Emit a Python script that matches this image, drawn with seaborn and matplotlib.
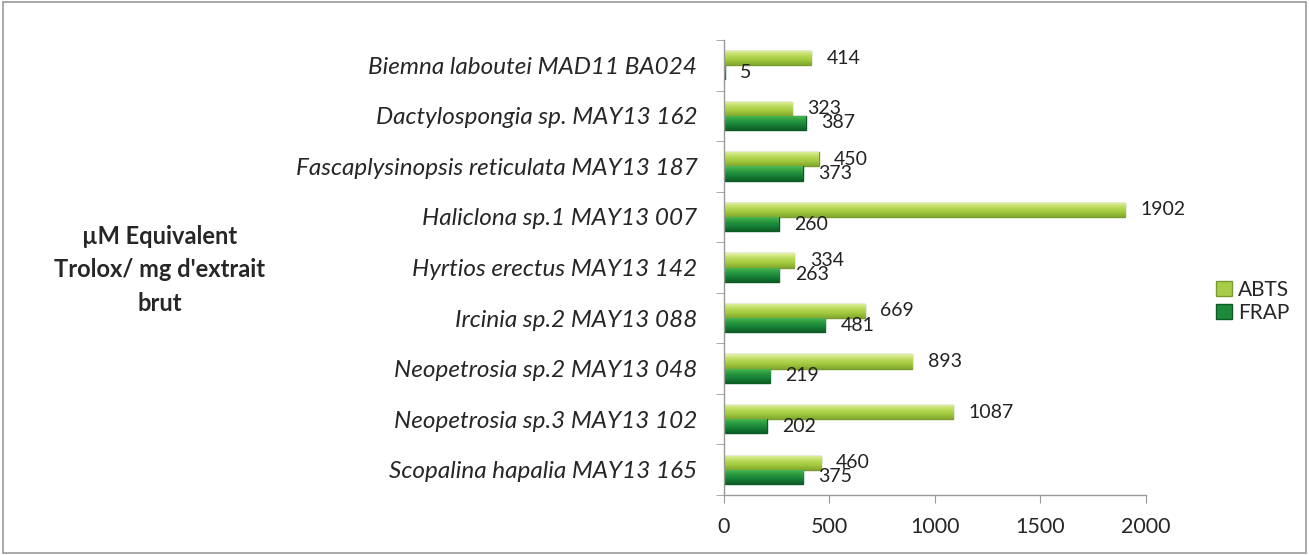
import matplotlib
matplotlib.use("Agg")
import matplotlib.pyplot as plt
import seaborn as sns
import pandas as pd
import numpy as np
from matplotlib.patches import Rectangle, Patch
from matplotlib.colors import LinearSegmentedColormap, to_rgb

species = [
    "Biemna laboutei MAD11 BA024",
    "Dactylospongia sp. MAY13 162",
    "Fascaplysinopsis reticulata MAY13 187",
    "Haliclona sp.1 MAY13 007",
    "Hyrtios erectus MAY13 142",
    "Ircinia sp.2 MAY13 088",
    "Neopetrosia sp.2 MAY13 048",
    "Neopetrosia sp.3 MAY13 102",
    "Scopalina hapalia MAY13 165",
]
abts = [414, 323, 450, 1902, 334, 669, 893, 1087, 460]
frap = [5, 387, 373, 260, 263, 481, 219, 202, 375]
series = ["ABTS", "FRAP"]
xticks = [0, 500, 1000, 1500, 2000]

df = pd.DataFrame({
    "species": species * 2,
    "value": abts + frap,
    "test": ["ABTS"] * len(species) + ["FRAP"] * len(species),
})

sns.set_style("white")
plt.rcParams["font.family"] = ["Lato", "DejaVu Sans"]

fig = plt.figure(figsize=(13.09, 5.55), dpi=100)
ax = fig.add_axes([0.553, 0.108, 0.3225, 0.82])

colors = {"ABTS": "#a6cd45", "FRAP": "#1d8a3a"}
edges = {"ABTS": "#7a9a30", "FRAP": "#0e5a24"}
gradients = {
    "ABTS": ["#e4f0a8", "#bddc5e", "#a2c93e", "#82a82e"],
    "FRAP": ["#52bb58", "#2b9c40", "#178039", "#0d5f26"],
}
sns.barplot(data=df, y="species", x="value", hue="test", hue_order=series,
            order=species, palette=colors, width=0.56, orient="h", ax=ax,
            legend=False, saturation=1)

for cont, s in zip(ax.containers, series):
    grad = np.array([to_rgb(c) for c in gradients[s]])
    cmap = LinearSegmentedColormap.from_list(s, grad)
    img = cmap(np.linspace(0, 1, 32))[:, None, :3]
    for p in cont:
        p.set_edgecolor(edges[s])
        p.set_linewidth(1.0)
        x0, y0 = p.get_x(), p.get_y()
        w, h = p.get_width(), p.get_height()
        im = ax.imshow(img, extent=(x0, x0 + w, y0 + h, y0), origin="upper",
                       aspect="auto", zorder=p.get_zorder() + 0.1,
                       interpolation="bilinear")
        im.set_clip_path(p)
    ax.bar_label(cont, labels=[str(int(v)) for v in cont.datavalues],
                 padding=11, fontsize=14, color="#222222")

ax.set_xlim(0, 2000)
ax.set_xticks(xticks)
ax.set_xticklabels([str(t) for t in xticks], fontsize=15.5)
ax.set_ylim(len(species) - 0.5, -0.5)
ax.set_yticks(np.arange(len(species) + 1) - 0.5, minor=True)
ax.set_yticks(np.arange(len(species)))
ax.set_yticklabels(species, fontsize=17.5, style="italic")
ax.tick_params(axis="y", which="major", length=0, pad=19)
ax.tick_params(axis="y", which="minor", length=6, color="#999999", left=True)
ax.tick_params(axis="x", length=6, color="#999999", bottom=True, pad=10)
ax.set_xlabel("")
ax.set_ylabel("")
ax.set_aspect("auto")
for side in ["top", "right"]:
    ax.spines[side].set_visible(False)
for side in ["left", "bottom"]:
    ax.spines[side].set_color("#999999")
    ax.spines[side].set_linewidth(1.0)

fig.text(0.122, 0.514, "µM Equivalent\nTrolox/ mg d'extrait\nbrut", ha="center",
         va="center", fontsize=17, fontweight="bold", linespacing=1.55)

handles = [Patch(facecolor=colors[s], edgecolor=edges[s], label=s) for s in series]
fig.legend(handles=handles, loc="center left", bbox_to_anchor=(0.929, 0.457),
           frameon=False, fontsize=15, handlelength=0.75, handleheight=0.75,
           handletextpad=0.3, labelspacing=0.15, borderaxespad=0, borderpad=0)

fig.patches.append(Rectangle((0.002, 0.003), 0.996, 0.994, transform=fig.transFigure,
                             fill=False, edgecolor="#9a9a9a", linewidth=1.2))

fig.savefig("out.png", dpi=100)
